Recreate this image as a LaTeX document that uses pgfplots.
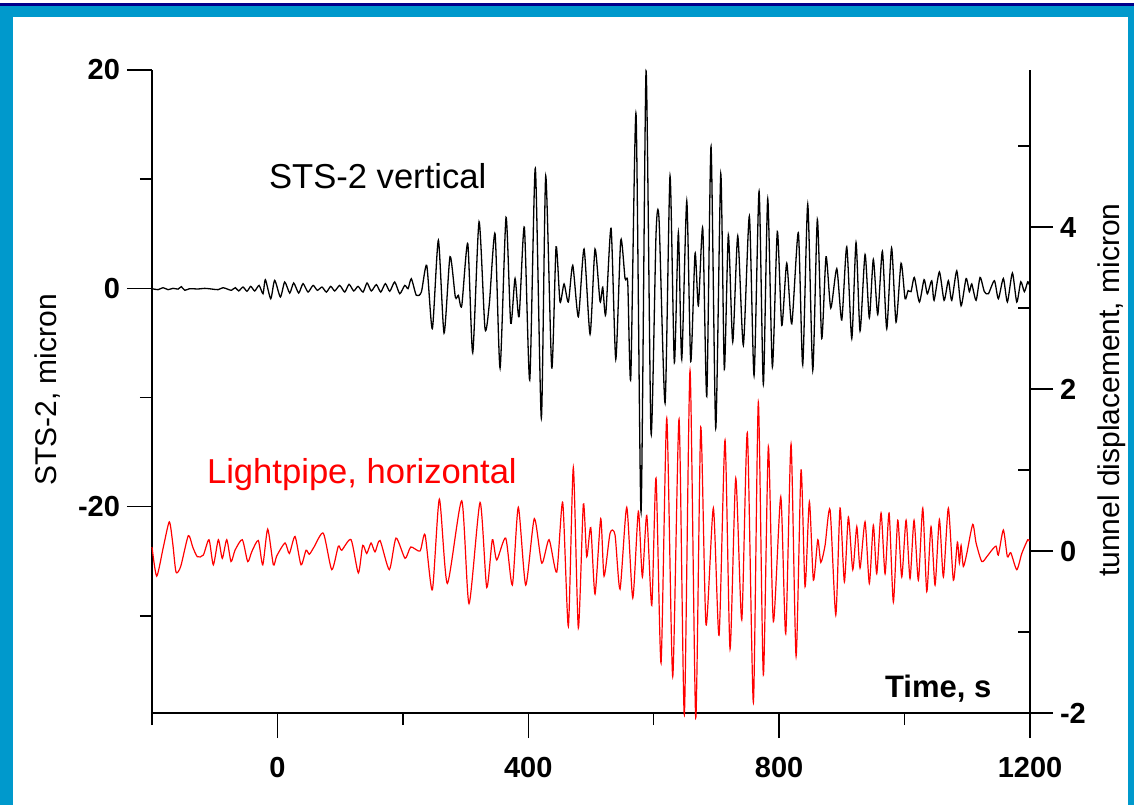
\documentclass[border=0pt]{standalone}
\usepackage{pgfplots}
\pgfplotsset{compat=1.18}
\usepackage{fontspec}
\setmainfont{Liberation Sans}
\definecolor{framecyan}{RGB}{0,153,204}
\definecolor{framenavy}{RGB}{0,0,139}
\pgfplotstableread{
t v
-200 -0.03
-190.4 -0.12
-182.4 0.06
-174.4 -0.12
-166.5 0.0
-158.5 -0.07
-153.2 0.15
-147.8 -0.18
-139.9 -0.03
-126.6 -0.06
-115.9 0.0
-105.3 -0.06
-94.7 -0.12
-86.7 0.06
-78.8 -0.09
-73.4 -0.18
-67.1 0.06
-61.8 -0.24
-54.9 0.12
-48.5 -0.27
-42.6 0.18
-36.2 -0.24
-29.3 0.27
-23.0 -0.49
-19.2 0.79
-10.7 -0.95
-4.4 0.73
4.7 -0.79
11.6 0.58
19.6 -0.43
25.9 0.49
33.9 -0.43
40.8 0.43
48.8 -0.34
56.8 0.27
63.7 -0.18
71.1 0.12
78.0 -0.34
85.0 0.18
91.4 -0.24
99.3 0.27
107.3 -0.34
114.2 0.37
121.7 -0.24
128.5 0.18
136.5 -0.34
142.9 0.49
149.7 -0.24
157.7 0.34
164.7 -0.34
172.1 0.43
179.1 -0.27
187.0 0.58
195.0 -0.49
203.0 0.27
208.3 -0.03
213.5 0.88
221.5 -0.64
229.5 -0.34
238.1 2.1
247.0 -3.7
256.6 4.4
265.7 -4.1
275.2 2.9
283.7 -0.8
288.5 -0.64
293.9 -1.6
303.5 4.1
311.4 -5.9
321.5 6.1
331.0 -3.7
337.9 -1.4
347.0 5.0
355.0 -7.3
364.5 6.5
372.0 -3.2
378.9 0.9
385.3 -2.6
393.7 5.6
402.3 -8.4
411.2 11.0
420.8 -11.9
427.8 10.3
437.4 -7.3
444.3 3.8
450.6 -1.25
457.0 0.4
463.9 -1.25
470.9 2.1
479.8 -2.6
488.9 3.6
498.5 -4.2
506.4 3.6
514.4 -1.2
518.7 0.1
523.5 -2.4
532.0 5.5
539.5 -6.5
547.4 4.4
554.3 0.9
558.6 0.5
563.4 -8.2
571.8 16.0
579.8 -20.5
587.8 19.9
595.7 -13.3
603.7 5.0
608.5 6.3
618.1 -10.5
626.0 10.3
632.9 -6.8
639.3 5.1
644.7 -6.5
652.7 8.0
659.0 -6.7
665.9 3.2
671.2 -1.6
678.2 5.5
684.6 -9.9
691.4 13.0
698.9 -12.8
706.9 10.5
712.6 -7.4
719.0 4.9
726.0 -4.9
734.0 4.8
742.9 -5.2
752.5 6.6
760.0 -8.0
768.0 8.9
774.8 -8.8
781.8 8.2
789.2 -7.2
797.1 5.2
804.2 -3.4
812.1 2.3
820.1 -3.25
830.6 5.1
837.6 -7.0
845.6 7.7
853.6 -7.5
860.9 6.3
867.9 -4.6
874.8 2.9
882.3 -1.8
891.9 1.8
899.8 -2.9
907.8 3.8
915.8 -4.6
922.6 4.2
929.0 -3.9
937.0 3.1
943.8 -2.7
950.2 2.65
957.2 -2.4
964.6 3.4
971.6 -3.7
979.3 3.7
986.4 -3.1
994.4 2.3
1000.8 -0.95
1005.6 -0.2
1010.3 -0.3
1015.6 1.0
1023.6 -1.25
1031.1 0.8
1036.3 -0.5
1043.3 0.7
1047.0 -1.1
1055.5 1.5
1063.0 -1.1
1069.8 0.7
1075.2 -1.1
1083.2 1.6
1090.1 -1.6
1098.1 0.9
1103.3 -0.3
1107.1 0.4
1114.0 -1.1
1120.4 1.0
1127.2 -0.3
1133.6 -0.5
1143.2 0.7
1149.5 -0.95
1157.5 0.9
1163.9 -1.25
1171.9 1.4
1178.9 -1.25
1185.3 0.6
1191.0 -0.3
1196.4 0.6
1199.0 0.3
}\stsdata
\pgfplotstableread{
t v
-200 0.05
-192.5 -0.31
-181.9 0.05
-172.4 0.36
-167.0 0.1
-161.7 -0.26
-154.2 -0.19
-142.1 0.19
-135.1 0.05
-127.7 -0.07
-118.2 -0.05
-109.1 0.14
-102.2 -0.17
-94.2 0.14
-87.9 -0.09
-80.8 0.14
-74.0 -0.13
-67.6 0.01
-56.0 0.14
-47.4 -0.13
-41.0 -0.01
-30.5 0.13
-23.4 -0.17
-15.5 0.27
-6.5 -0.17
-1.1 -0.06
12.1 0.1
19.0 -0.03
28.1 0.18
37.6 -0.17
45.6 0.01
50.9 -0.04
58.4 0.05
73.2 0.22
86.6 -0.23
97.1 0.06
102.5 0.01
117.4 0.14
129.0 -0.27
136.0 0.07
142.4 -0.03
149.3 0.1
155.6 -0.01
163.6 0.13
178.4 -0.23
189.1 0.16
203.5 -0.09
212.6 0.05
227.4 0.0
235.4 0.2
247.0 -0.48
258.2 0.64
270.9 -0.4
293.9 0.62
305.5 -0.65
323.1 0.6
333.7 -0.45
342.7 0.14
349.7 -0.11
364.0 0.16
374.6 -0.42
384.1 0.54
395.9 -0.42
409.6 0.4
421.5 -0.15
433.1 0.14
445.4 -0.26
454.9 0.6
463.9 -0.93
471.8 1.03
479.8 -0.95
487.8 0.58
493.2 -0.07
499.6 0.29
506.4 -0.53
515.5 0.4
520.8 -0.31
530.4 0.22
538.3 0.2
546.3 -0.47
557.0 0.54
566.6 -0.58
575.5 0.49
581.9 -0.32
588.9 0.44
596.9 -0.67
603.7 0.9
611.7 -1.38
620.8 1.64
630.3 -1.55
640.4 1.63
648.8 -2.02
657.9 2.23
667.0 -2.06
675.0 1.53
683.4 -0.91
695.1 0.53
704.2 -1.04
713.7 1.37
721.7 -1.21
730.8 0.9
740.4 -0.85
749.3 1.46
758.9 -1.87
766.8 1.84
774.8 -1.53
782.8 1.29
790.8 -0.87
802.6 0.67
810.5 -1.02
819.0 1.32
827.0 -1.3
834.9 1.0
841.3 -0.44
848.2 0.61
854.6 -0.36
861.6 0.14
866.4 -0.14
873.2 0.07
881.2 0.51
890.3 -0.79
897.1 0.53
904.0 -0.38
910.4 0.42
917.4 -0.23
923.8 0.3
929.0 -0.21
937.0 0.36
943.8 -0.4
950.2 0.32
955.6 -0.28
962.5 0.47
968.9 -0.28
975.3 0.47
982.1 -0.63
989.1 0.38
995.5 -0.32
1002.4 0.38
1008.7 -0.34
1015.1 0.38
1022.0 -0.36
1029.0 0.53
1035.4 -0.5
1042.2 0.3
1048.6 -0.42
1055.5 0.39
1061.9 -0.32
1069.8 0.53
1077.8 -0.36
1084.2 0.11
1087.4 -0.15
1090.1 0.07
1093.7 -0.19
1099.2 -0.03
1108.7 0.33
1114.0 0.1
1123.1 -0.13
1131.1 -0.07
1139.0 0.01
1145.9 0.06
1149.5 -0.05
1157.5 0.26
1163.9 -0.07
1169.3 -0.02
1178.9 -0.23
1186.9 -0.03
1196.4 0.14
1199.0 0.12
}\lpdata
\begin{document}
\begin{tikzpicture}
\path[use as bounding box] (0,0) rectangle (567pt,402.5pt);
\fill[white] (0,0) rectangle (567pt,402.5pt);
\fill[framenavy] (0,399.5pt) rectangle (567pt,401.2pt);
\fill[framecyan] (0,393.8pt) rectangle (567pt,399.5pt);
\fill[framecyan] (0,0) rectangle (6.4pt,399.5pt);
\fill[framecyan] (563.8pt,0) rectangle (567pt,399.5pt);
\begin{axis}[
  at={(76pt,46pt)}, anchor=south west,
  scale only axis, width=439pt, height=321.5pt,
  xmin=-200, xmax=1200, ymin=-38.9, ymax=20,
  axis x line*=bottom, axis y line*=left,
  tick align=outside,
  xtick={0,400,800,1200}, xticklabels={0,400,800,1200},
  ytick={-20,0,20}, yticklabels={-20,0,20},
  major tick length=12.5pt,
  extra x ticks={-200,200,600,1000}, extra x tick labels={},
  extra y ticks={-30,-10,10}, extra y tick labels={},
  extra tick style={major tick length=6pt},
  ticklabel style={font=\bfseries\fontsize{14.5}{17}\selectfont},
  xticklabel style={yshift=-6pt},
  every tick/.style={black, line width=0.7pt},
  axis line style={line width=0.7pt},
  clip=false,
]
\addplot[black, line width=0.65pt, smooth, tension=0.4] table[x=t,y=v] {\stsdata};
\end{axis}
\begin{axis}[
  at={(76pt,46pt)}, anchor=south west,
  scale only axis, width=439pt, height=321.5pt,
  xmin=-200, xmax=1200, ymin=-2, ymax=5.94,
  axis x line=none, axis y line*=right,
  tick align=outside,
  ytick={-2,0,2,4}, yticklabels={-2,0,2,4},
  major tick length=11.5pt,
  extra y ticks={-1,1,3,5}, extra y tick labels={},
  extra y tick style={tick align=inside, major tick length=6pt},
  ticklabel style={font=\bfseries\fontsize{14.5}{17}\selectfont},
  every tick/.style={black, line width=0.7pt},
  axis line style={line width=0.7pt},
  clip=false,
]
\addplot[red, line width=0.6pt, smooth, tension=0.4] table[x=t,y=v] {\lpdata};
\end{axis}
\node[anchor=base west, font=\fontsize{17.3}{20}\selectfont] at (131pt,308.5pt) {STS-2 vertical};
\node[anchor=base west, text=red, font=\fontsize{17.3}{20}\selectfont] at (100pt,161pt) {Lightpipe, horizontal};
\node[anchor=base west, font=\bfseries\fontsize{15.5}{19}\selectfont] at (439pt,54pt) {Time, s};
\node[rotate=90, font=\fontsize{15}{18}\selectfont] at (24pt,207.5pt) {STS-2, micron};
\node[rotate=90, font=\fontsize{15}{18}\selectfont] at (556pt,207.5pt) {tunnel displacement, micron};
\end{tikzpicture}
\end{document}
